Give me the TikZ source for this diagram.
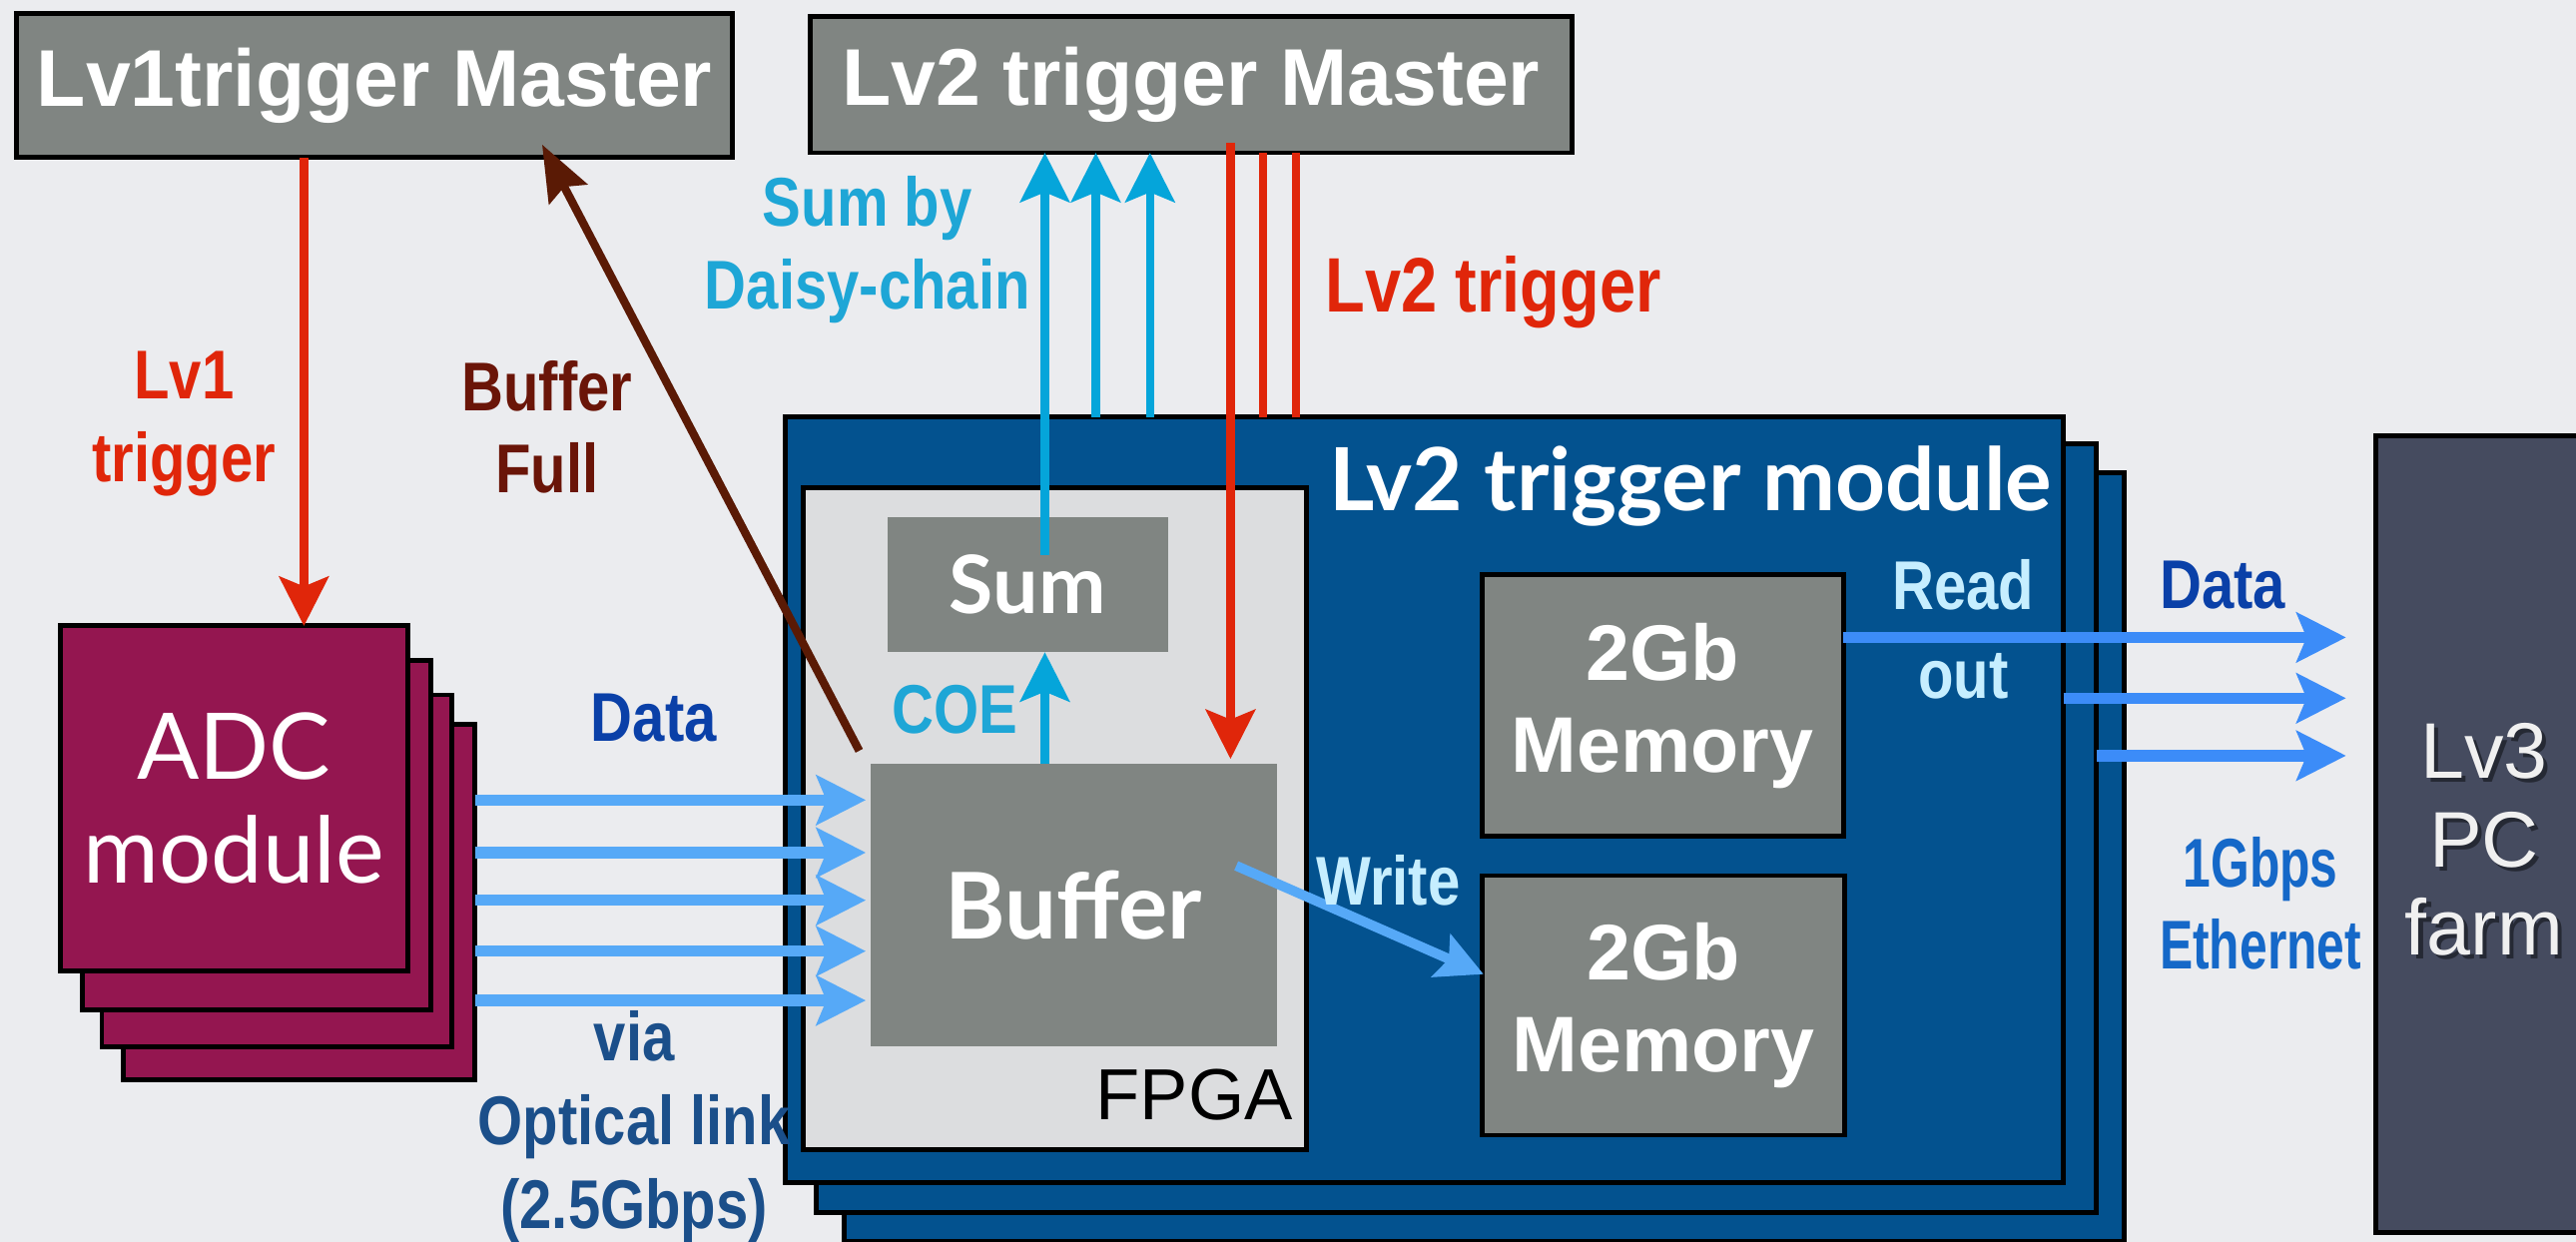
\documentclass[tikz,border=0pt]{standalone}
\usepackage{fontspec}
\setmainfont{Liberation Sans}
\newfontfamily\condsans[FakeStretch=0.84]{Liberation Sans}
\newfontfamily\narrowsans[FakeStretch=0.72]{Liberation Sans}
\newfontfamily\humsans{Lato}
\usetikzlibrary{arrows.meta,calc}

\definecolor{bgcol}{HTML}{EBECEF}
\definecolor{boxgray}{HTML}{808582}
\definecolor{trigred}{HTML}{E0260A}
\definecolor{fullbrown}{HTML}{5A1A05}
\definecolor{fulltext}{HTML}{6A1508}
\definecolor{datablue}{HTML}{0A40A8}
\definecolor{linkblue}{HTML}{1B4F8A}
\definecolor{sumcyan}{HTML}{05A5DA}
\definecolor{sumtext}{HTML}{1EA6D6}
\definecolor{lightblue}{HTML}{56A9F7}
\definecolor{modblue}{HTML}{03528F}
\definecolor{fpgagray}{HTML}{DCDDDF}
\definecolor{adcred}{HTML}{941650}
\definecolor{palecyan}{HTML}{C6EEFF}
\definecolor{readblue}{HTML}{3C8CF8}
\definecolor{ethblue}{HTML}{1568C8}
\definecolor{farmgray}{HTML}{454B5F}

\tikzset{
  panel/.style={anchor=north west, inner sep=0pt, outer sep=0pt},
  framed/.style={panel, draw=black, line width=3pt},
  master/.style={framed, fill=boxgray, text=white,
    font=\bfseries\fontsize{49}{56}\selectfont},
  layer/.style={framed, fill=modblue},
  adclayer/.style={framed, fill=adcred},
  graybox/.style={panel, fill=boxgray, text=white, align=center},
  lbl/.style={inner sep=0pt, align=center,
    font=\condsans\bfseries\fontsize{42}{50}\selectfont},
  farmtext/.style={inner sep=0pt, align=center, font=\fontsize{48}{54}\selectfont},
  tip/.style={-{Stealth[length=30pt,width=30pt,inset=6pt]}},
  redline/.style={draw=trigred, line width=5pt},
  cyanline/.style={draw=sumcyan, line width=5pt},
  blueline/.style={draw=lightblue, line width=7pt},
  readline/.style={draw=readblue, line width=7pt},
}

\begin{document}
\begin{tikzpicture}[x=1pt,y=-1pt]
\fill[bgcol] (0,0) rectangle (1568,756);
\useasboundingbox (0,0) rectangle (1568,756);

% column and row positions used by the connectors
\coordinate (xlv1) at (185,0);
\coordinate (xs1) at (636,0);
\coordinate (xs2) at (667,0);
\coordinate (xs3) at (700,0);
\coordinate (xr1) at (749,0);
\coordinate (xr2) at (769,0);
\coordinate (xr3) at (789,0);
\coordinate (yd1) at (0,487);
\coordinate (yd2) at (0,519);
\coordinate (yd3) at (0,548);
\coordinate (yd4) at (0,579);
\coordinate (yd5) at (0,609);
\coordinate (yo1) at (0,388);
\coordinate (yo2) at (0,425);
\coordinate (yo3) at (0,460);

% Lv2 trigger module stack
\node[layer, minimum width=779pt, minimum height=468pt] (mod3) at (514,288) {};
\node[layer, minimum width=779pt, minimum height=468pt] (mod2) at (497,270) {};
\node[layer, minimum width=778pt, minimum height=466pt] (mod) at (478,254) {};
\node[text=white, font=\humsans\bfseries\fontsize{53}{56}\selectfont, inner sep=0pt]
  (modlbl) at (1029,296) {Lv2 trigger module};

% FPGA with its blocks
\node[framed, fill=fpgagray, minimum width=306pt, minimum height=403pt] (fpga) at (489,297) {};
\node[anchor=south east, inner sep=0pt, font=\fontsize{44}{50}\selectfont]
  (fpgalbl) at (787,682) {FPGA};
\node[graybox, minimum width=171pt, minimum height=82pt,
  font=\humsans\bfseries\fontsize{49}{56}\selectfont] (sum) at (540,315) {Sum};
\node[graybox, minimum width=247pt, minimum height=172pt,
  font=\humsans\bfseries\fontsize{56}{60}\selectfont] (buf) at (530,465) {Buffer};

% memories
\node[framed, fill=boxgray, text=white, align=center, minimum width=220pt, minimum height=159pt,
  font=\bfseries\fontsize{48}{56}\selectfont] (mem1) at (902,350) {2Gb\\Memory};
\node[framed, fill=boxgray, text=white, align=center, minimum width=221pt, minimum height=158pt,
  font=\bfseries\fontsize{48}{56}\selectfont] (mem2) at (902,533) {2Gb\\Memory};

% ADC module stack
\node[adclayer, minimum width=214pt, minimum height=216pt] (adc4) at (75,441) {};
\node[adclayer, minimum width=213pt, minimum height=214pt] (adc3) at (62,423) {};
\node[adclayer, minimum width=212pt, minimum height=213pt] (adc2) at (50,402) {};
\node[adclayer, minimum width=211pt, minimum height=210pt, text=white, align=center,
  font=\humsans\fontsize{56}{63}\selectfont] (adc) at (37,381) {ADC\\module};

% trigger masters
\node[master, minimum width=436pt, minimum height=88pt] (lv1) at (10,8) {Lv1trigger Master};
\node[master, minimum width=464pt, minimum height=83pt] (lv2) at (493,10) {Lv2 trigger Master};

% Lv3 farm, its caption with a soft drop shadow
\node[framed, fill=farmgray, minimum width=140pt, minimum height=485pt] (lv3) at (1446,265) {};
\node[farmtext, text=black, opacity=0.45] (lv3shadow) at (1514.5,513.5) {Lv3\\PC\\farm};
\node[farmtext, text=white!94!black] (lv3lbl) at (1512,511) {Lv3\\PC\\farm};

% Lv1 trigger
\draw[redline, tip] (lv1.south -| xlv1) -- (adc.north -| xlv1);
\node[lbl, text=trigred] (lv1lbl) at (112,258) {Lv1\\trigger};

% buffer full
\draw[draw=fullbrown, line width=5pt, -{Stealth[length=34pt,width=26pt,inset=5pt]}]
  ($(buf.north west)+(-7,-8)$) -- ($(lv1.south west)+(320,-8)$);
\node[lbl, text=fulltext] (fulllbl) at (333,260) {Buffer\\Full};

% daisy-chain sums
\draw[cyanline, tip] ($(sum.north -| xs1)+(0,23)$) -- (lv2.south -| xs1);
\draw[cyanline, tip] (mod.north -| xs2) -- (lv2.south -| xs2);
\draw[cyanline, tip] (mod.north -| xs3) -- (lv2.south -| xs3);
\node[lbl, text=sumtext] (sumlbl) at (528,152) {Sum by\\Daisy-chain};
\draw[cyanline, tip] (buf.north -| xs1) -- (sum.south -| xs1);
\node[lbl, text=sumtext] (coelbl) at (581,432) {COE};

% Lv2 trigger
\draw[redline, tip] ($(lv2.south -| xr1)+(0,-6)$) -- ($(buf.north -| xr1)+(0,-3)$);
\draw[redline] (lv2.south -| xr2) -- (mod.north -| xr2);
\draw[redline] (lv2.south -| xr3) -- (mod.north -| xr3);
\node[lbl, text=trigred, font=\condsans\bfseries\fontsize{47}{50}\selectfont]
  (lv2lbl) at (909,178) {Lv2 trigger};

% optical links
\foreach \r in {yd1,yd2,yd3,yd4,yd5}
  \draw[blueline, tip] (adc4.east |- \r) -- ($(buf.west |- \r)+(-3,0)$);
\node[lbl, text=datablue] (datalbl) at (398,437) {Data};
\node[lbl, text=linkblue, font=\condsans\bfseries\fontsize{42}{51}\selectfont]
  (linklbl) at (386,686) {via\\Optical link\\(2.5Gbps)};

% write
\draw[draw=lightblue, line width=6pt, -{Stealth[length=28pt,width=28pt,inset=5pt]}]
  ($(buf.center)+(99,-24)$) -- ($(mem2.west)+(1,-19)$);
\node[lbl, text=palecyan] (writelbl) at (845,536) {Write};

% read out
\draw[readline, tip] (mem1.east |- yo1) -- ($(lv3.west |- yo1)+(-18,0)$);
\draw[readline, tip] (mod.east |- yo2) -- ($(lv3.west |- yo2)+(-18,0)$);
\draw[readline, tip] (mod2.east |- yo3) -- ($(lv3.west |- yo3)+(-18,0)$);
\node[lbl, text=palecyan, font=\condsans\bfseries\fontsize{42}{54}\selectfont]
  (readlbl) at (1195,383) {Read\\out};
\node[lbl, text=datablue] (data2lbl) at (1353,356) {Data};
\node[lbl, text=ethblue, font=\narrowsans\bfseries\fontsize{42}{50}\selectfont]
  (ethlbl) at (1376,550) {1Gbps\\Ethernet};
\end{tikzpicture}
\end{document}
